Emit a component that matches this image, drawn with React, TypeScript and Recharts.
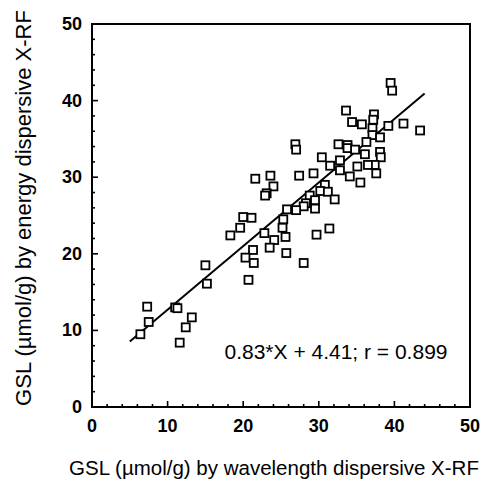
import { ScatterChart, Scatter, XAxis, YAxis, ReferenceArea } from "recharts";

// GSL by wavelength dispersive X-RF (x) vs energy dispersive X-RF (y)
const gslWavelength = [
  39.5, 39.7, 33.6, 34.4, 35.7, 37.3, 37.2, 37.1, 39.2, 41.2, 43.4, 37.1, 38.1,
  36.3, 32.6, 33.8, 33.8, 34.8, 38.1, 38.2, 36.1, 37.4, 36.5, 30.4, 32.8, 31.5,
  32.8, 35.1, 37.6, 34.1, 35.5, 26.9, 27.0, 29.3, 27.4, 21.6, 23.6, 24.0, 23.1,
  22.9, 30.8, 30.2, 31.2, 32.1, 28.8, 29.5, 28.3, 28.0, 29.5, 27.0, 25.8, 25.3,
  25.2, 25.6, 25.7, 31.4, 29.7, 28.0, 20.0, 21.1, 19.6, 18.3, 22.8, 24.1, 23.5,
  21.3, 20.3, 21.4, 20.7, 15.0, 15.2, 11.0, 11.3, 13.2, 12.4, 11.6, 7.3, 7.5, 6.4,
];
const gslEnergy = [
  42.3, 41.3, 38.7, 37.2, 36.9, 38.2, 37.5, 36.4, 36.7, 37.0, 36.1, 35.5, 35.2,
  34.6, 34.3, 34.2, 33.8, 33.6, 33.3, 32.6, 33.0, 31.6, 31.6, 32.6, 32.2, 31.5,
  30.9, 31.4, 30.5, 30.1, 29.3, 34.3, 33.6, 30.5, 30.2, 29.8, 30.2, 28.8, 27.9,
  27.6, 29.0, 28.2, 28.1, 27.1, 27.6, 27.0, 26.6, 26.2, 25.9, 25.7, 25.8, 24.5,
  23.4, 22.2, 20.1, 23.3, 22.5, 18.8, 24.8, 24.7, 23.4, 22.4, 22.7, 21.8, 20.8,
  20.5, 19.5, 18.8, 16.6, 18.5, 16.1, 13.0, 12.9, 11.7, 10.4, 8.4, 13.1, 11.1, 9.5,
];

// regression line 0.83*X + 4.41, end points
const fitX = [5, 44];
const fitY = [8.56, 40.93];

const axisTicks = [0, 2, 4, 6, 8, 10, 12, 14, 16, 18, 20, 22, 24, 26, 28, 30, 32, 34, 36, 38, 40, 42, 44, 46, 48, 50];
const labelledTicks = [0, 10, 20, 30, 40, 50];

const points = gslWavelength.map((x, i) => ({ x, y: gslEnergy[i] }));
const fitLine = fitX.map((x, i) => ({ x, y: fitY[i] }));

const font = "'Liberation Sans', Arial, sans-serif";

function XTick({ x, y, payload }: any) {
  const major = labelledTicks.includes(payload.value);
  return (
    <g>
      <line x1={x} y1={y} x2={x} y2={y - (major ? 6 : 3)} stroke="#000" strokeWidth={1.6} />
      {major && (
        <text x={x} y={y + 19} textAnchor="middle" dominantBaseline="central"
          fontFamily={font} fontSize={18} fontWeight="bold" fill="#000">
          {payload.value}
        </text>
      )}
    </g>
  );
}

function YTick({ x, y, payload }: any) {
  const major = labelledTicks.includes(payload.value);
  return (
    <g>
      <line x1={x} y1={y} x2={x + (major ? 6 : 3)} y2={y} stroke="#000" strokeWidth={1.6} />
      {major && (
        <text x={x - 10} y={y} textAnchor="end" dominantBaseline="central"
          fontFamily={font} fontSize={18} fontWeight="bold" fill="#000">
          {payload.value}
        </text>
      )}
    </g>
  );
}

const OpenSquare = ({ cx, cy }: any) => (
  <rect x={cx - 4} y={cy - 4} width={8} height={8} fill="#fff" stroke="#000" strokeWidth={1.8} />
);

export default function App() {
  return (
    <div style={{ position: "absolute", left: 0, top: 0, width: 488, height: 481, background: "#fff" }}>
      <ScatterChart width={488} height={481} margin={{ top: 24, right: 18, bottom: 0, left: 0 }}>
        <XAxis
          type="number"
          dataKey="x"
          domain={[0, 50]}
          ticks={axisTicks}
          interval={0}
          height={74}
          axisLine={false}
          tickLine={false}
          tickSize={0}
          tickMargin={0}
          tick={<XTick />}
          label={{
            content: () => (
              <text x={274} y={467} textAnchor="middle" dominantBaseline="central"
                fontFamily={font} fontSize={20.5} fill="#000">
                GSL (µmol/g) by wavelength dispersive X-RF
              </text>
            ),
          }}
        />
        <YAxis
          type="number"
          dataKey="y"
          domain={[0, 50]}
          ticks={axisTicks}
          interval={0}
          width={92}
          axisLine={false}
          tickLine={false}
          tickSize={0}
          tickMargin={0}
          tick={<YTick />}
          label={{
            content: () => (
              <text x={23} y={208} transform="rotate(-90 23 208)" textAnchor="middle"
                dominantBaseline="central" fontFamily={font} fontSize={22} fill="#000">
                GSL (µmol/g) by energy dispersive X-RF
              </text>
            ),
          }}
        />
        <ReferenceArea x1={0} x2={50} y1={0} y2={50} fill="none" stroke="#000" strokeWidth={2} />
        <Scatter
          data={fitLine}
          line={{ stroke: "#000", strokeWidth: 2 }}
          stroke="#000"
          fill="#000"
          shape={() => <g />}
          isAnimationActive={false}
        />
        <Scatter data={points} shape={<OpenSquare />} isAnimationActive={false} />
      </ScatterChart>
      <div
        style={{
          position: "absolute",
          left: 336,
          top: 352,
          transform: "translate(-50%, -50%)",
          whiteSpace: "nowrap",
          fontFamily: font,
          fontSize: 21,
          color: "#000",
        }}
      >
        0.83*X + 4.41; r = 0.899
      </div>
    </div>
  );
}
